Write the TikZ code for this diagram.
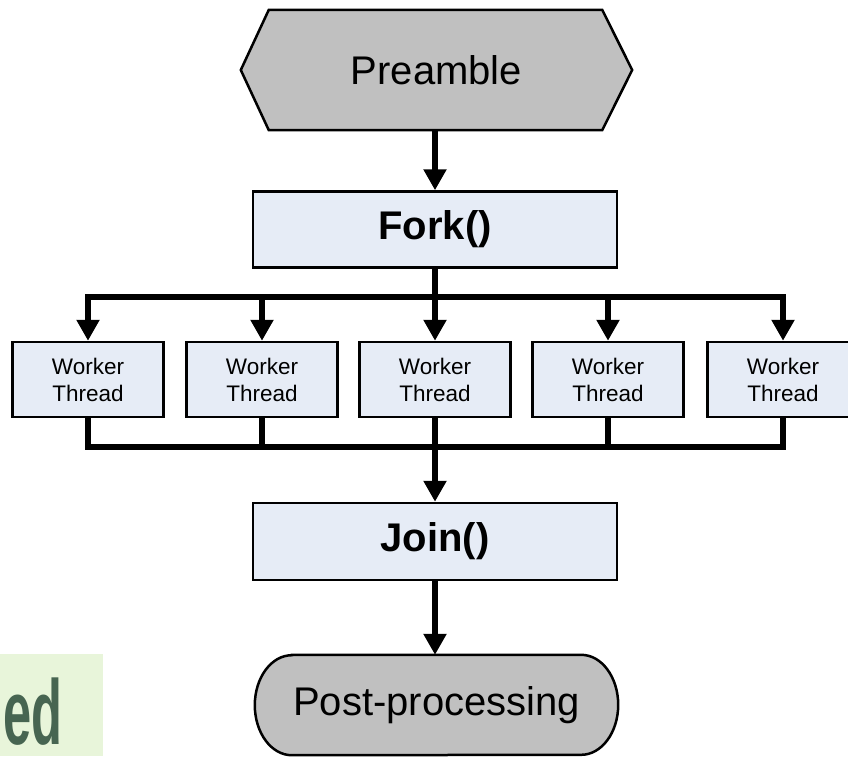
\documentclass[tikz,border=0pt]{standalone}
\usepackage{fontspec}
\setmainfont{Liberation Sans}
\usetikzlibrary{arrows.meta,backgrounds}
\definecolor{boxfill}{HTML}{E6ECF6}
\definecolor{pregray}{HTML}{C0C0C0}
\definecolor{wmbg}{HTML}{E8F5DA}
\definecolor{wmfg}{HTML}{476551}
\begin{document}
\begin{tikzpicture}[x=1pt,y=-1pt,
  conn/.style={line width=6pt,line cap=rect},
  vline/.style={line width=6pt},
  arr/.style={line width=6pt,-{Triangle[width=22pt,length=21pt]}},
  bluebox/.style={draw=black,line width=2.5pt,fill=boxfill,inner sep=0pt},
  bigbox/.style={bluebox,minimum width=364pt,minimum height=76pt,font=\fontsize{40}{44}\selectfont\bfseries},
  worker/.style={bluebox,minimum width=151pt,minimum height=75pt,align=center,font=\fontsize{22.5}{27}\selectfont},
  grayshape/.style={draw=black,line width=2.5pt,fill=pregray},
  label/.style={inner sep=0pt}
]
\useasboundingbox (0,0) rectangle (848,756);

% watermark fragment
\fill[wmbg] (0,654) rectangle (103,756);
\node[label,anchor=south east,text=wmfg] (wm) at (63,746)
  {\scalebox{0.55}[1]{\fontsize{92}{92}\selectfont\bfseries ed}};

% Preamble
\node[label,minimum width=391pt,minimum height=120pt,font=\fontsize{40}{44}\selectfont] (pre) at (436.5,70) {Preamble};
\begin{scope}[on background layer]
\draw[grayshape,line join=miter] (pre.west) -- ([xshift=28pt]pre.north west) -- ([xshift=-30pt]pre.north east)
  -- (pre.east) -- ([xshift=-30pt]pre.south east) -- ([xshift=28pt]pre.south west) -- cycle;
\end{scope}

% Fork
\node[bigbox] (fork) at (435,229.5) {Fork()};
\draw[arr] (pre.south -| fork.north) -- (fork.north);

% Workers
\node[worker] (w1) at (88,379.5) {Worker\\Thread};
\node[worker] (w2) at (262,379.5) {Worker\\Thread};
\node[worker] (w3) at (435,379.5) {Worker\\Thread};
\node[worker] (w4) at (608,379.5) {Worker\\Thread};
\node[worker] (w5) at (783,379.5) {Worker\\Thread};

\coordinate (fb) at (435,297);
\coordinate (jb) at (435,447);

\draw[vline] (fork.south) -- (fb);
\draw[conn] (w1.north |- fb) -- (w5.north |- fb);
\foreach \w in {w1,w2,w3,w4,w5}
  \draw[arr] (\w.north |- fb) -- (\w.north);

% Join
\node[bigbox,minimum height=77pt] (join) at (435,541.5) {Join()};
\foreach \w in {w1,w2,w4,w5}
  \draw[vline] (\w.south) -- (\w.south |- jb);
\draw[conn] (w1.south |- jb) -- (w5.south |- jb);
\draw[arr] (w3.south) -- (join.north);

% Post-processing
\node[label,minimum width=363pt,minimum height=100pt,font=\fontsize{40}{44}\selectfont] (post) at (436.5,705) {Post-processing};
\begin{scope}[on background layer]
\draw[grayshape] ([xshift=37pt]post.north west) -- ([xshift=-37pt]post.north east)
  arc[start angle=90,end angle=-90,x radius=37pt,y radius=50pt]
  -- ([xshift=37pt]post.south west)
  arc[start angle=270,end angle=90,x radius=37pt,y radius=50pt] -- cycle;
\end{scope}
\draw[arr] (join.south) -- (join.south |- post.north);

\end{tikzpicture}
\end{document}
